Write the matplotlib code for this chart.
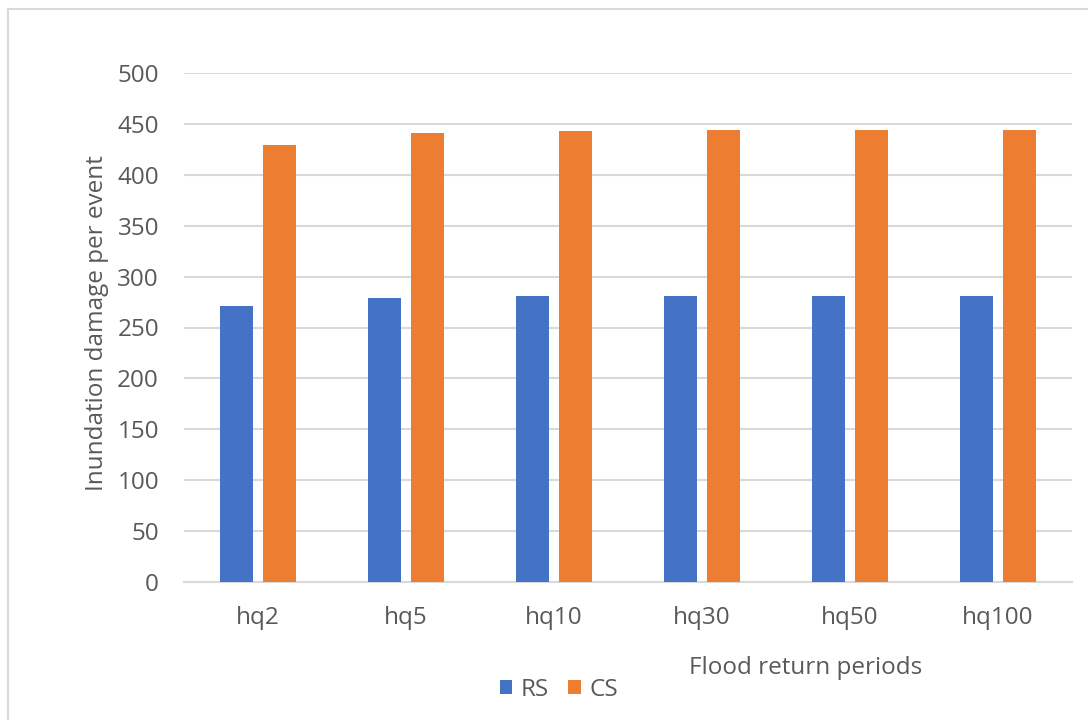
import numpy as np
import matplotlib
matplotlib.use('Agg')
import matplotlib.pyplot as plt
from matplotlib.patches import Rectangle

periods = ['hq2', 'hq5', 'hq10', 'hq30', 'hq50', 'hq100']
rs_values = [271, 279, 281, 281, 281, 281]
cs_values = [429, 441, 443, 444, 444, 444]
y_ticks = [0, 50, 100, 150, 200, 250, 300, 350, 400, 450, 500]

plt.rcParams['font.family'] = ['Open Sans', 'DejaVu Sans']
text_grey = '#595959'
grid_grey = '#d9d9d9'
fs = 17.5

fig = plt.figure(figsize=(10.88, 7.2), dpi=100)
ax = fig.add_axes([184 / 1088, 1 - 582 / 720, (1072 - 184) / 1088, (582 - 73) / 720])

x = np.arange(len(periods))
width = 0.223
offset = 0.142
ax.bar(x - offset, rs_values, width, color='#4472C4', label='RS', zorder=3)
ax.bar(x + offset, cs_values, width, color='#ED7D31', label='CS', zorder=3)

ax.set_xlim(-0.5, len(periods) - 0.5)
ax.set_ylim(0, 500)
ax.set_yticks(y_ticks)
ax.set_xticks(x)
ax.set_xticklabels(periods)
ax.yaxis.grid(True, color=grid_grey, linewidth=1.5, zorder=0)
ax.tick_params(axis='both', length=0, labelsize=fs, colors=text_grey)
ax.tick_params(axis='x', pad=17)
ax.tick_params(axis='y', pad=18)
for side in ['top', 'right', 'left']:
    ax.spines[side].set_visible(False)
ax.spines['bottom'].set_color(grid_grey)
ax.spines['bottom'].set_linewidth(1.5)

fig.text(97 / 1088, 1 - 323 / 720, 'Inundation damage per event', rotation=90,
         ha='center', va='center', fontsize=fs, color=text_grey)
fig.text(806 / 1088, 1 - 668 / 720, 'Flood return periods',
         ha='center', va='center', fontsize=fs, color=text_grey)

fig.legend(loc='center', bbox_to_anchor=(559 / 1088, 1 - 690 / 720), ncol=2,
           frameon=False, fontsize=fs, labelcolor=text_grey,
           handlelength=0.5, handleheight=0.5, handletextpad=0.35, columnspacing=0.8)

# outer chart-area frame, cut off by the right and bottom edges
fig.patches.append(Rectangle((8 / 1088, -0.1), 1.2, 0.1 + 1 - 9 / 720,
                             transform=fig.transFigure, fill=False,
                             edgecolor=grid_grey, linewidth=1.5))

fig.savefig('out.png', dpi=100)
